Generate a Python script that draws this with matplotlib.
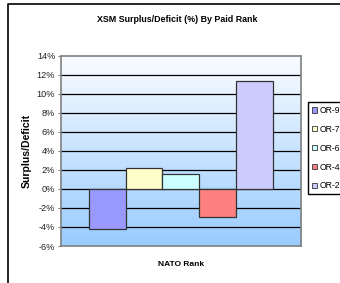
import numpy as np
import matplotlib.pyplot as plt
from matplotlib.patches import Patch
from matplotlib.lines import Line2D

# data
ranks = ['OR-9', 'OR-7', 'OR-6', 'OR-4', 'OR-2']
surplus = [-4.2, 2.2, 1.6, -2.9, 11.4]
colors = ['#9999FF', '#FFFFCC', '#CCFFFF', '#FF8080', '#CCCCFF']
yticks = np.arange(-6, 15, 2)

plt.rcParams['font.family'] = ['Liberation Sans', 'DejaVu Sans']

fig = plt.figure(figsize=(3.4, 2.83), dpi=100)
ax = fig.add_axes([0.179, 0.1307, 0.706, 0.672])

# gradient background
grad = np.linspace(0, 1, 256).reshape(-1, 1)
top = np.array([0.98, 0.99, 1.0])
bot = np.array([0.6, 0.8, 1.0])
img = top + (bot - top) * grad[:, :, None]
ax.imshow(img, extent=[0, 1, 0, 1], transform=ax.transAxes, aspect='auto', zorder=0)

for y in yticks[1:-1]:
    ax.axhline(y, color='black', lw=0.9, zorder=1)

x = np.arange(len(ranks))
ax.bar(x, surplus, width=1.0, color=colors, edgecolor='#333333', linewidth=0.9, zorder=2)

ax.set_xlim(-1.26, 5.26)
ax.set_ylim(-6, 14)
ax.set_yticks(yticks)
ax.set_yticklabels(['%d%%' % v for v in yticks])
ax.set_xticks([])
ax.tick_params(axis='y', labelsize=6.6, length=2.5, width=0.8, color='#808080', pad=1.5,
               labelcolor='#222222')
for s in ax.spines.values():
    s.set_color('#808080')
    s.set_linewidth(1.2)

ax.set_ylabel('Surplus/Deficit', fontsize=7.6, fontweight='bold', labelpad=4)
ax.set_xlabel('NATO Rank', fontsize=6, fontweight='bold', labelpad=11)
fig.text(0.52, 1 - 20 / 283, 'XSM Surplus/Deficit (%) By Paid Rank', ha='center', va='center',
         fontsize=6.4, fontweight='bold')

handles = [Patch(facecolor=c, edgecolor='#333333', linewidth=0.6) for c in colors]
fig.legend(handles, ranks, loc='upper left', bbox_to_anchor=(308 / 340, 1 - 102 / 283),
           fontsize=6.2, frameon=True, fancybox=False, edgecolor='black', framealpha=1,
           handlelength=0.6, handleheight=0.6, handletextpad=0.3, labelspacing=1.15,
           borderpad=0.45, borderaxespad=0)

# outer frame
fig.add_artist(Line2D([8 / 340, 8 / 340, 1.0], [0.0, 1 - 4 / 283, 1 - 4 / 283],
                      transform=fig.transFigure, color='black', lw=1.2))

fig.savefig('out.png', dpi=100)
